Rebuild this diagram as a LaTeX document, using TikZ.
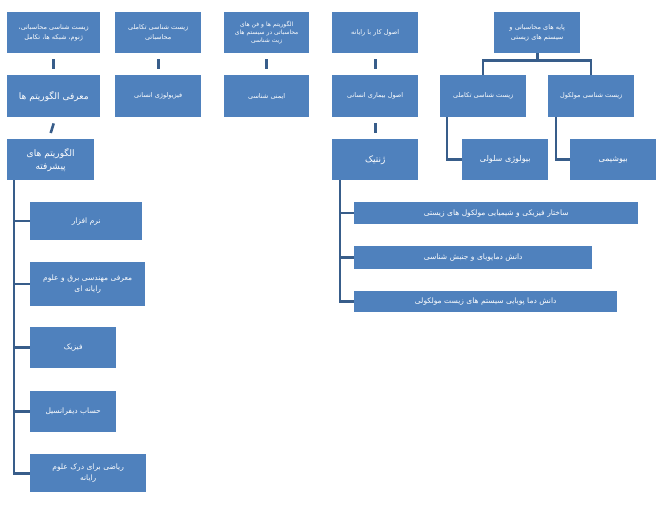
\documentclass[tikz,border=0pt]{standalone}
\usepackage{fontspec}
\TeXXeTstate=1
\newfontfamily\fa[Script=Arabic]{DejaVu Sans}
\newcommand{\R}[1]{\fa\beginR #1\endR}
\begin{document}
\begin{tikzpicture}[x=1pt,y=-1pt,
  bx/.style={fill=blue!45!cyan!20!black!0, fill={rgb,255:red,79;green,129;blue,189}, text=white, inner sep=1pt, align=center, font=\fontsize{6.5}{10}\fa, anchor=north west},
  ln/.style={draw={rgb,255:red,56;green,93;blue,138}, line width=2.6pt}]
\useasboundingbox (0,0) rectangle (663,510);
\newcommand{\B}[6]{\node[bx,minimum width=#3-#1,minimum height=#4-#2,text width=#3-#1-4,#5] (#6) at (#1,#2) {};}
% helper with text
\def\bxn(#1,#2,#3,#4)#5#6#7{\node[bx,minimum width={#3-#1},minimum height={#4-#2},text width={#3-#1-4},#6] (#5) at (#1,#2) {#7};}
\bxn(7,12,100,53){a1}{}{\beginR زیست شناسی محاسباتی،\endR\\\beginR ژنوم، شبکه ها، تکامل\endR}
\bxn(115,12,201,53){b1}{}{\beginR زیست شناسی تکاملی\endR\\\beginR محاسباتی\endR}
\bxn(224,12,309,53){c1}{font=\fontsize{6}{8}\fa}{\beginR الگوریتم ها و فن های\endR\\\beginR محاسباتی در سیستم های\endR\\\beginR زیت شناسی\endR}
\bxn(332,12,418,53){d1}{}{\beginR اصول کار با رایانه\endR}
\bxn(494,12,580,53){e1}{}{\beginR پایه های محاسباتی و\endR\\\beginR سیستم های زیستی\endR}
\bxn(7,75,100,117){a2}{font=\fontsize{9}{12}\fa}{\beginR معرفی الگوریتم ها\endR}
\bxn(115,75,201,117){b2}{}{\beginR فیزیولوژی انسانی\endR}
\bxn(224,75,309,117){c2}{}{\beginR ایمنی شناسی\endR}
\bxn(332,75,418,117){d2}{}{\beginR اصول بیماری انسانی\endR}
\bxn(440,75,526,117){e2}{}{\beginR زیست شناسی تکاملی\endR}
\bxn(548,75,634,117){f2}{}{\beginR زیست شناسی مولکول\endR}
\bxn(7,139,94,180){a3}{font=\fontsize{9}{13}\fa}{\beginR الگوریتم های\endR\\\beginR پیشرفته\endR}
\bxn(332,139,418,180){d3}{font=\fontsize{9}{12}\fa}{\beginR ژنتیک\endR}
\bxn(462,139,548,180){e3}{font=\fontsize{8}{12}\fa}{\beginR بیولوژی سلولی\endR}
\bxn(570,139,656,180){f3}{font=\fontsize{8}{12}\fa}{\beginR بیوشیمی\endR}
\bxn(30,202,142,240){l1}{font=\fontsize{7.5}{11}\fa}{\beginR نرم افزار\endR}
\bxn(30,262,145,306){l2}{font=\fontsize{7.5}{11}\fa}{\beginR معرفی مهندسی برق و علوم\endR\\\beginR رایانه ای\endR}
\bxn(30,327,116,368){l3}{font=\fontsize{7.5}{11}\fa}{\beginR فیزیک\endR}
\bxn(30,391,116,432){l4}{font=\fontsize{7.5}{11}\fa}{\beginR حساب دیفرانسیل\endR}
\bxn(30,454,146,492){l5}{font=\fontsize{7.5}{11}\fa}{\beginR ریاضی برای درک علوم\endR\\\beginR رایانه\endR}
\bxn(354,202,638,224){g1}{font=\fontsize{7.5}{10}\fa}{\beginR ساختار فیزیکی و شیمیایی مولکول های زیستی\endR}
\bxn(354,246,592,269){g2}{font=\fontsize{7.5}{10}\fa}{\beginR دانش دماپویای و جنبش شناسی\endR}
\bxn(354,291,617,312){g3}{font=\fontsize{7.5}{10}\fa}{\beginR دانش دما پویایی سیستم های زیست مولکولی\endR}
% connectors
\foreach \u/\v in {a1/a2,a2/a3,b1/b2,c1/c2,d1/d2,d2/d3}{
  \draw[ln] ([yshift=-6pt]\u.south) -- ([yshift=6pt]\v.north);}
\coordinate (e1b) at ([yshift=-7]e1.south);
\draw[ln] (e1.south) -- (e1b);
\draw[ln] (e2.north -| 483,0) |- (e1b) -| (f2.north -| 591,0);
\draw[ln] (e2.south -| 447,0) |- (e3.west);
\draw[ln] (f2.south -| 556,0) |- (f3.west);
\draw[ln] (a3.south -| 14,0) |- (l5.west);
\foreach \n in {l1,l2,l3,l4}{\draw[ln] (\n.west -| 14,0) -- (\n.west);}
\draw[ln] (d3.south -| 340,0) |- (g3.west);
\foreach \n in {g1,g2}{\draw[ln] (\n.west -| 340,0) -- (\n.west);}
\end{tikzpicture}
\end{document}
